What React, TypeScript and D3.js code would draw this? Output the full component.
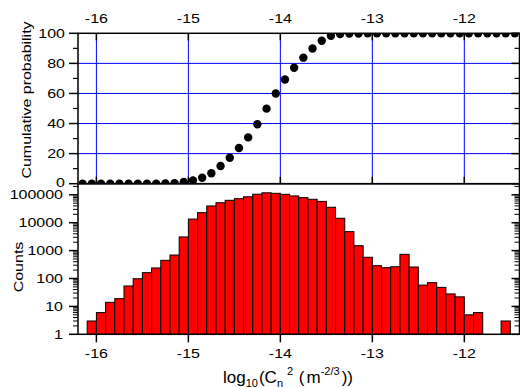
import * as d3 from "d3";

// histogram bins (centres, width 0.1 in log10 units) and counts
const binCenters = [
  -16.05, -15.95, -15.85, -15.75, -15.65, -15.55, -15.45, -15.35, -15.25, -15.15,
  -15.05, -14.95, -14.85, -14.75, -14.65, -14.55, -14.45, -14.35, -14.25, -14.15,
  -14.05, -13.95, -13.85, -13.75, -13.65, -13.55, -13.45, -13.35, -13.25, -13.15,
  -13.05, -12.95, -12.85, -12.75, -12.65, -12.55, -12.45, -12.35, -12.25, -12.15,
  -12.05, -11.95, -11.85, -11.75, -11.65, -11.55,
];
const counts = [
  3, 6, 14, 19, 54, 98, 162, 239, 448, 694,
  3090, 13500, 22900, 39800, 52000, 63500, 72700, 85000, 105000, 118000,
  113000, 104000, 91000, 79000, 69000, 58000, 35700, 14400, 4780, 1500,
  576, 288, 245, 264, 735, 258, 58, 71, 48, 28,
  22, 5, 6, 0, 0, 3,
];
const binWidth = 0.1;

// cumulative probability points
const cumX = [
  -16.15, -16.05, -15.95, -15.85, -15.75, -15.65, -15.55, -15.45, -15.35, -15.25,
  -15.15, -15.05, -14.95, -14.85, -14.75, -14.65, -14.55, -14.45, -14.35, -14.25,
  -14.15, -14.05, -13.95, -13.85, -13.75, -13.65, -13.55, -13.45, -13.35, -13.25,
  -13.15, -13.05, -12.95, -12.85, -12.75, -12.65, -12.55, -12.45, -12.35, -12.25,
  -12.15, -12.05, -11.95, -11.85, -11.75, -11.65, -11.55, -11.45,
];
const cumPct = [
  0, 0, 0, 0, 0, 0, 0, 0, 0, 0.1,
  0.4, 1.2, 2.2, 4.0, 6.9, 11.8, 17.3, 23.7, 30.8, 39.5,
  49.9, 60.0, 69.3, 77.1, 83.8, 89.9, 95.0, 98.4, 99.5, 99.8,
  99.9, 100, 100, 100, 100, 100, 100, 100, 100, 100,
  100, 100, 100, 100, 100, 100, 100, 100,
];

const xTicks = [-16, -15, -14, -13, -12];
const cumTicks = [0, 20, 40, 60, 80, 100];
const cumMinor = [10, 30, 50, 70, 90];
const cumGrid = [20, 40, 60, 80];
const countTicks = [1, 10, 100, 1000, 10000, 100000];

const FONT = "'Liberation Sans', Arial, sans-serif";

function Label({ x, y, anchor = "middle", size = 16, sy = 0.8, children }: any) {
  return (
    <text
      transform={`translate(${x},${y}) scale(1,${sy})`}
      textAnchor={anchor}
      fontSize={size}
      fontFamily={FONT}
      fill="#000"
    >
      {children}
    </text>
  );
}

export default function App() {
  const width = 520;
  const height = 388;
  const left = 78;
  const right = 519.5;
  const topY = 33.3;
  const midY = 183.7;
  const botY = 334.3;

  const x = d3.scaleLinear().domain([-16.2, -11.4]).range([left, right]);
  const yCum = d3.scaleLinear().domain([0, 100]).range([midY, topY]);
  const yCnt = d3.scaleLog().domain([1, 250000]).range([botY, midY]);

  const countMinor: number[] = [];
  for (let e = 0; e <= 5; e++) {
    for (let m = 2; m <= 9; m++) {
      const v = m * Math.pow(10, e);
      if (v < 250000) countMinor.push(v);
    }
  }

  return (
    <svg
      width={width}
      height={height}
      style={{ position: "absolute", left: 0, top: 0, background: "#fff" }}
    >
      <defs>
        <clipPath id="topclip">
          <rect x={left} y={topY} width={right - left} height={midY - topY} />
        </clipPath>
      </defs>

      {/* top panel grid */}
      {xTicks.map((t) => (
        <line key={"vg" + t} x1={x(t)} x2={x(t)} y1={topY} y2={midY} stroke="#0000ff" strokeWidth={1} />
      ))}
      {cumGrid.map((t) => (
        <line key={"hg" + t} x1={left} x2={right} y1={yCum(t)} y2={yCum(t)} stroke="#0000ff" strokeWidth={1} />
      ))}

      {/* cumulative dots */}
      <g clipPath="url(#topclip)">
        {cumX.map((v, i) => (
          <circle key={i} cx={x(v)} cy={yCum(cumPct[i])} r={4.2} fill="#000" />
        ))}
      </g>

      {/* histogram bars */}
      {binCenters.map((c, i) =>
        counts[i] > 0 ? (
          <rect
            key={i}
            x={x(c - binWidth / 2)}
            y={yCnt(counts[i])}
            width={x(c + binWidth / 2) - x(c - binWidth / 2)}
            height={botY - yCnt(counts[i])}
            fill="#ff0000"
            stroke="#000"
            strokeWidth={1}
          />
        ) : null
      )}

      {/* frames */}
      <rect x={left} y={topY} width={right - left} height={midY - topY} fill="none" stroke="#000" strokeWidth={1.5} />
      <rect x={left} y={midY} width={right - left} height={botY - midY} fill="none" stroke="#000" strokeWidth={1.5} />

      {/* x ticks: top panel inward, bottom panel outward */}
      {xTicks.map((t) => (
        <g key={"xt" + t} stroke="#000" strokeWidth={1.5}>
          <line x1={x(t)} x2={x(t)} y1={topY} y2={topY + 7} />
          <line x1={x(t)} x2={x(t)} y1={midY} y2={midY - 7} />
          <line x1={x(t)} x2={x(t)} y1={botY} y2={botY + 8} />
        </g>
      ))}
      {xTicks.map((t) => (
        <Label key={"xl1" + t} x={x(t)} y={22.7}>{t}</Label>
      ))}
      {xTicks.map((t) => (
        <Label key={"xl2" + t} x={x(t)} y={358.3}>{t}</Label>
      ))}

      {/* cumulative y axis */}
      {cumTicks.map((t) => (
        <g key={"ct" + t} stroke="#000" strokeWidth={1.5}>
          <line x1={left - 9} x2={left} y1={yCum(t)} y2={yCum(t)} />
          <line x1={right - 8} x2={right} y1={yCum(t)} y2={yCum(t)} />
        </g>
      ))}
      {cumMinor.map((t) => (
        <g key={"cm" + t} stroke="#000" strokeWidth={1.2}>
          <line x1={left - 5} x2={left} y1={yCum(t)} y2={yCum(t)} />
          <line x1={right - 5} x2={right} y1={yCum(t)} y2={yCum(t)} />
        </g>
      ))}
      {cumTicks.map((t) => (
        <Label key={"cl" + t} x={65} y={yCum(t) + (t === 0 ? 2.8 : 4.4)} anchor="end">{t}</Label>
      ))}

      {/* count y axis (log) */}
      {countTicks.map((t) => (
        <g key={"nt" + t} stroke="#000" strokeWidth={1.5}>
          <line x1={left - 9} x2={left} y1={yCnt(t)} y2={yCnt(t)} />
          <line x1={right - 8} x2={right} y1={yCnt(t)} y2={yCnt(t)} />
        </g>
      ))}
      {countMinor.map((t) => (
        <g key={"nm" + t} stroke="#000" strokeWidth={1}>
          <line x1={left - 5} x2={left} y1={yCnt(t)} y2={yCnt(t)} />
          <line x1={right - 5} x2={right} y1={yCnt(t)} y2={yCnt(t)} />
        </g>
      ))}
      {countTicks.map((t) => (
        <Label key={"nl" + t} x={63} y={yCnt(t) + 4.6} anchor="end">{t}</Label>
      ))}

      {/* axis titles */}
      <text
        transform="translate(31,100) rotate(-90) scale(1,0.85)"
        textAnchor="middle"
        fontSize={16}
        fontFamily={FONT}
      >
        Cumulative probability
      </text>
      <text
        transform="translate(23,267) rotate(-90) scale(1,0.85)"
        textAnchor="middle"
        fontSize={16}
        fontFamily={FONT}
      >
        Counts
      </text>
      <text x={223} y={382.5} fontSize={17} fontFamily={FONT}>
        log
        <tspan fontSize={11} dy={4}>10</tspan>
        <tspan dx={1} dy={-4}>(C</tspan>
        <tspan fontSize={11} dy={4}>n</tspan>
        <tspan fontSize={11} dx={4} dy={-11.5}>2</tspan>
        <tspan dx={1} dy={7.5}> (</tspan>
        <tspan dx={2}>m</tspan>
        <tspan fontSize={11} dy={-8}>-2/3</tspan>
        <tspan dx={2} dy={8}>))</tspan>
      </text>
    </svg>
  );
}
